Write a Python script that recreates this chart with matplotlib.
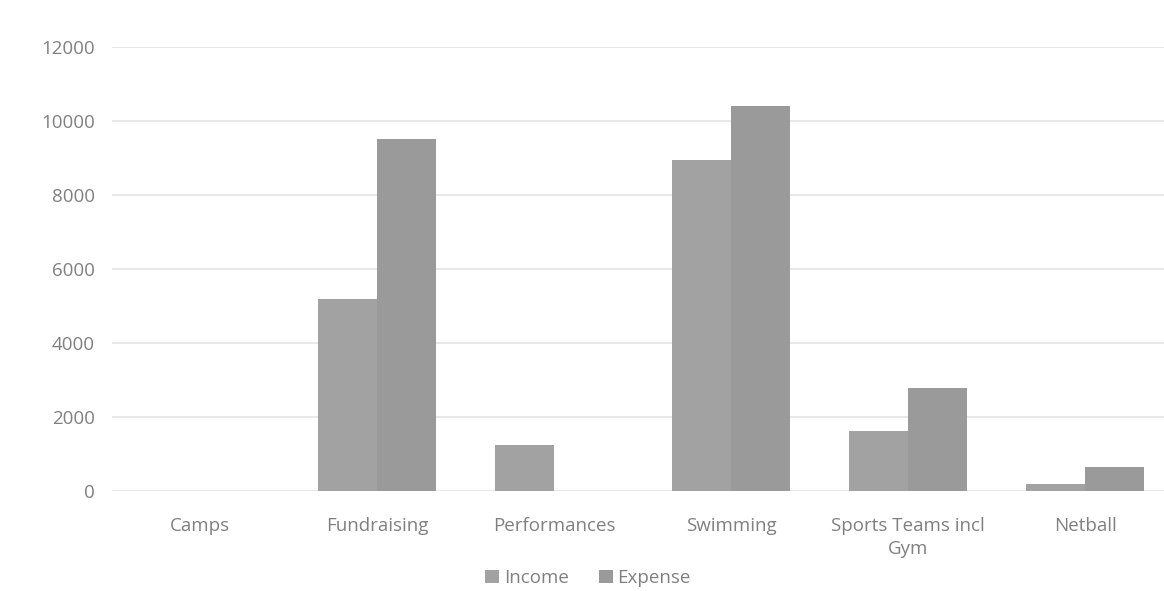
import matplotlib.pyplot as plt
import numpy as np

plt.rcParams['font.family'] = ['Open Sans', 'DejaVu Sans']

categories = ["Camps", "Fundraising", "Performances", "Swimming",
              "Sports Teams incl\nGym", "Netball"]
income = [0, 5200, 1250, 8950, 1620, 200]
expense = [0, 9500, 0, 10400, 2780, 650]
yticks = [0, 2000, 4000, 6000, 8000, 10000, 12000]

text_color = "#808080"
fs = 13.5

fig = plt.figure(figsize=(11.64, 5.91), dpi=100)
# axes run a little past the right edge of the figure
ax = fig.add_axes([0.0958, 0.1692, 0.9124, 0.7513])

x = np.arange(len(categories))
w = 0.335
ax.bar(x - w / 2, income, width=w, color="#a2a2a2", label="Income", zorder=2)
ax.bar(x + w / 2, expense, width=w, color="#9a9a9a", label="Expense", zorder=2)

ax.set_xlim(-0.5, len(categories) - 0.5)
ax.set_ylim(0, 12000)
ax.set_yticks(yticks)
ax.set_yticklabels([str(v) for v in yticks])
ax.set_xticks(x)
ax.set_xticklabels(categories, linespacing=1.35)

ax.grid(axis="y", color="#e2e2e2", linewidth=1.1, zorder=0)
for s in ax.spines.values():
    s.set_visible(False)
ax.tick_params(axis="both", length=0, labelsize=fs, labelcolor=text_color)
ax.tick_params(axis="x", pad=19)
ax.tick_params(axis="y", pad=12)

fig.legend(loc="center", bbox_to_anchor=(588 / 1164, 1 - 578 / 591), ncol=2,
           frameon=False, fontsize=fs, labelcolor=text_color,
           handlelength=0.75, handleheight=0.75, handletextpad=0.25,
           columnspacing=1.6)

fig.savefig("out.png", dpi=100)
